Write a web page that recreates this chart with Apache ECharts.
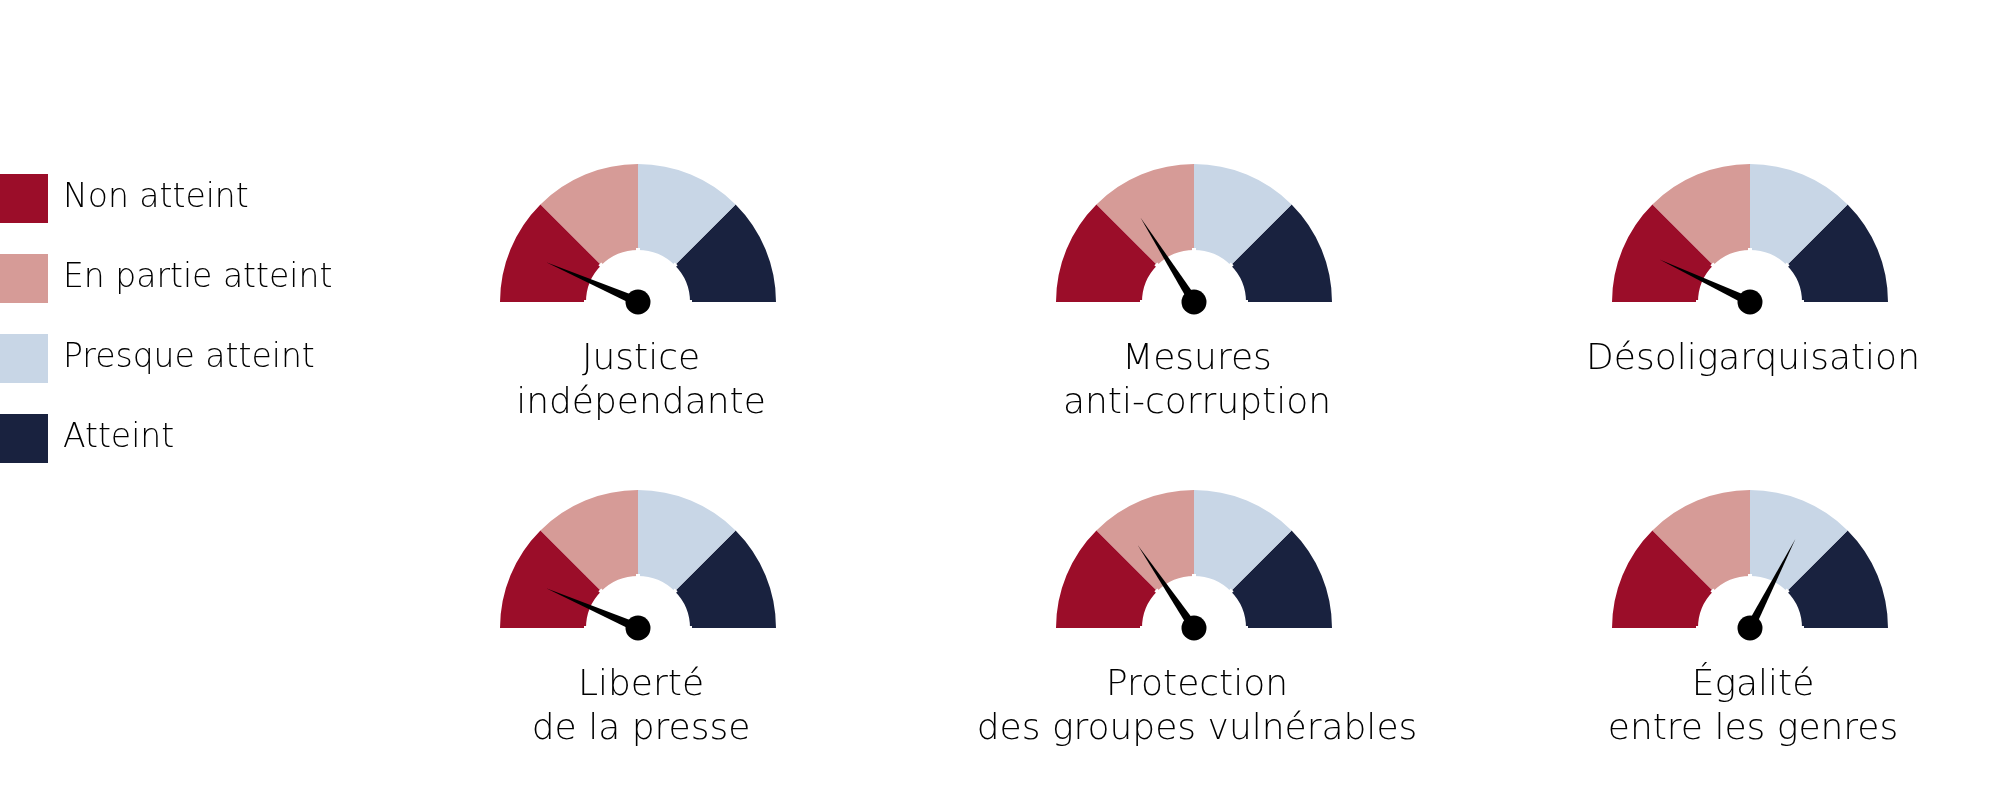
<!DOCTYPE html>
<html lang="fr">

<head>
  <meta charset="UTF-8">
  <title>Jauges</title>
  <style>
    html,
    body {
      margin: 0;
      padding: 0;
      background: #fff;
    }

    #chart {
      width: 1996px;
      height: 806px;
    }
  </style>
</head>

<body>
  <div id="chart"></div>
  <script src="https://cdn.jsdelivr.net/npm/echarts@6/dist/echarts.min.js"></script>
  <script>
    // niveaux de la légende (un quart de jauge chacun)
    const levels = ['Non atteint', 'En partie atteint', 'Presque atteint', 'Atteint']
    const levelColors = ['#9b0d29', '#d69b97', '#c8d6e6', '#19223f']

    // indicateurs, valeur lue sur 0-100
    const indicators = [
      'Justice\nindépendante',
      'Mesures\nanti-corruption',
      'Désoligarquisation',
      'Liberté\nde la presse',
      'Protection\ndes groupes vulnérables',
      'Égalité\nentre les genres'
    ]
    const scores = [13, 32, 14, 13, 31, 65]

    // mise en page
    const colX = [636, 1192, 1748]
    const rowY = [302, 628]
    const outerR = 138
    const ringW = 86
    // la graisse 300 tombe sur DejaVu Sans ExtraLight
    const font = '"DejaVu Sans", sans-serif'

    let series = []
    let titles = []
    indicators.forEach((name, i) => {
      let cx = colX[i % 3]
      let cy = rowY[Math.floor(i / 3)]
      series.push({
        type: 'gauge',
        center: [cx + 2, cy],
        radius: outerR,
        startAngle: 180,
        endAngle: 0,
        min: 0,
        max: 100,
        splitNumber: 4,
        axisLine: {
          lineStyle: {
            width: ringW,
            color: levelColors.map((c, k) => [(k + 1) / levels.length, c])
          }
        },
        splitLine: {
          distance: -2,
          length: ringW + 4,
          lineStyle: { color: '#fff', width: 4 }
        },
        axisTick: { show: false },
        axisLabel: { show: false },
        pointer: {
          icon: 'path://M4,0 L8,100 L0,100 Z',
          length: 100,
          width: 9,
          offsetCenter: [0, 0],
          itemStyle: { color: '#000' }
        },
        anchor: {
          show: true,
          showAbove: true,
          size: 25,
          itemStyle: { color: '#000' }
        },
        title: { show: false },
        detail: { show: false },
        data: [{ name: name, value: scores[i] }]
      })
      titles.push({
        text: name,
        left: cx,
        top: cy + 31,
        textAlign: 'center',
        textStyle: {
          fontFamily: font,
          fontSize: 36,
          fontWeight: 300,
          lineHeight: 44,
          color: '#000'
        }
      })
    })

    // série vide pour porter la légende
    series.push({
      type: 'pie',
      radius: [0, 0],
      silent: true,
      label: { show: false },
      labelLine: { show: false },
      data: levels.map((l, k) => ({ name: l, value: 1, itemStyle: { color: levelColors[k] } }))
    })

    let myChart = echarts.init(document.getElementById('chart'))
    myChart.setOption({
      animation: false,
      title: titles,
      legend: {
        orient: 'vertical',
        left: 0,
        top: 174,
        padding: 0,
        icon: 'rect',
        itemWidth: 48,
        itemHeight: 49,
        itemGap: 31,
        selectedMode: false,
        data: levels,
        textStyle: {
          fontFamily: font,
          fontSize: 33,
          fontWeight: 300,
          color: '#000',
          padding: [0, 0, 0, 10]
        }
      },
      series: series
    })
  </script>
</body>

</html>
